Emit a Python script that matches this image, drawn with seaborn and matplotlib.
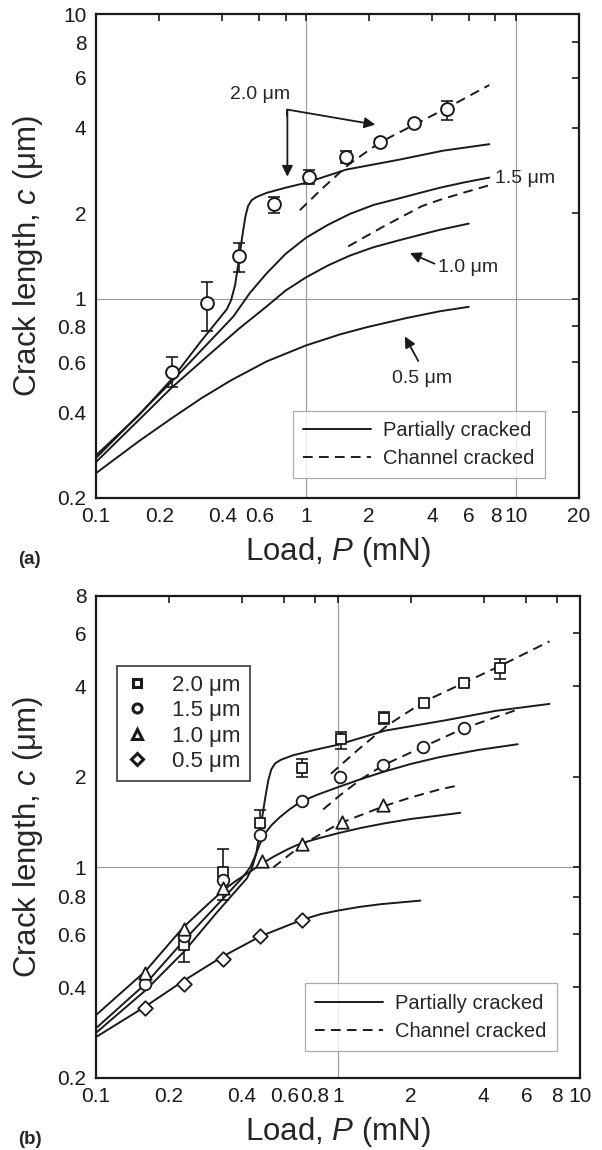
import matplotlib
matplotlib.use("Agg")
import matplotlib.pyplot as plt
import seaborn as sns
from matplotlib.lines import Line2D
from matplotlib.ticker import FixedLocator, FixedFormatter, NullLocator

sns.set_theme(style="white")
plt.rcParams['font.family'] = ['Liberation Sans', 'DejaVu Sans']
plt.rcParams['mathtext.fontset'] = 'custom'
plt.rcParams['mathtext.it'] = 'Liberation Sans:italic'
plt.rcParams['mathtext.rm'] = 'Liberation Sans'

# ---------------- data: panel (a) ----------------
a_exp_load = [0.231, 0.337, 0.479, 0.708, 1.04, 1.55, 2.25, 3.29, 4.72]
a_exp_c = [0.552, 0.964, 1.41, 2.16, 2.68, 3.15, 3.56, 4.14, 4.65]
a_exp_low = [0.489, 0.773, 1.245, 2.01, 2.53, 3.00, 3.46, 4.06, 4.25]
a_exp_high = [0.624, 1.15, 1.57, 2.29, 2.83, 3.30, 3.66, 4.22, 4.95]

p20_load = [0.1, 0.16, 0.231, 0.313, 0.40, 0.42, 0.44, 0.46, 0.48, 0.50, 0.515, 0.53, 0.55, 0.58,
            0.65, 0.8, 1.0, 1.56, 2.8, 4.5, 7.48]
p20_c = [0.282, 0.39, 0.525, 0.703, 0.88, 0.92, 0.99, 1.12, 1.38, 1.7, 1.95, 2.12, 2.22, 2.28,
         2.36, 2.46, 2.56, 2.85, 3.09, 3.32, 3.50]
c20_load = [0.935, 1.2, 1.6, 2.25, 3.29, 4.72, 7.48]
c20_c = [2.05, 2.45, 2.97, 3.55, 4.1, 4.7, 5.65]

a_p15_load = [0.1, 0.231, 0.32, 0.451, 0.541, 0.65, 0.8, 1.0, 1.27, 1.62, 2.1, 2.8, 3.5, 4.35, 5.7, 7.48]
a_p15_c = [0.276, 0.515, 0.664, 0.867, 1.05, 1.23, 1.44, 1.64, 1.82, 1.99, 2.14, 2.26, 2.36, 2.46, 2.57, 2.67]
a_c15_load = [1.59, 2.35, 3.57, 4.35, 5.6, 7.48]
a_c15_c = [1.53, 1.80, 2.12, 2.23, 2.36, 2.51]

a_p10_load = [0.1, 0.231, 0.362, 0.48, 0.65, 0.8, 1.0, 1.27, 1.62, 2.1, 2.8, 3.5, 4.35, 5.97]
a_p10_c = [0.267, 0.49, 0.656, 0.786, 0.941, 1.07, 1.19, 1.31, 1.42, 1.52, 1.61, 1.68, 1.75, 1.84]

a_p05_load = [0.1, 0.16, 0.231, 0.32, 0.439, 0.65, 1.0, 1.45, 1.946, 3.0, 4.35, 5.97]
a_p05_c = [0.244, 0.316, 0.382, 0.449, 0.517, 0.603, 0.686, 0.75, 0.795, 0.856, 0.905, 0.938]

# ---------------- data: panel (b) ----------------
b_sq_load = [0.230, 0.334, 0.477, 0.71, 1.03, 1.55, 2.27, 3.30, 4.69]
b_sq_c = [0.553, 0.968, 1.41, 2.14, 2.67, 3.13, 3.53, 4.11, 4.61]
b_sq_low = [0.485, 0.78, 1.27, 2.0, 2.48, 3.0, 3.45, 4.03, 4.23]
b_sq_high = [0.598, 1.156, 1.556, 2.29, 2.82, 3.28, 3.62, 4.2, 4.95]

b_ci_load = [0.160, 0.230, 0.334, 0.477, 0.71, 1.02, 1.54, 2.25, 3.30]
b_ci_c = [0.409, 0.590, 0.908, 1.28, 1.66, 2.0, 2.19, 2.52, 2.92]

b_tr_load = [0.160, 0.230, 0.334, 0.484, 0.708, 1.035, 1.54]
b_tr_c = [0.445, 0.625, 0.853, 1.05, 1.20, 1.418, 1.61]

b_di_load = [0.160, 0.230, 0.334, 0.477, 0.71]
b_di_c = [0.340, 0.411, 0.498, 0.590, 0.670]

b_p15_load = [0.1, 0.16, 0.23, 0.336, 0.40, 0.433, 0.45, 0.476, 0.50, 0.53, 0.575, 0.63, 0.697,
              0.82, 1.0, 1.25, 1.54, 2.0, 2.64, 3.8, 5.53]
b_p15_c = [0.292, 0.41, 0.57, 0.79, 0.92, 1.0, 1.07, 1.2, 1.3, 1.38, 1.47, 1.56, 1.65,
           1.745, 1.85, 1.97, 2.08, 2.21, 2.33, 2.46, 2.57]
b_c15_load = [0.869, 1.02, 1.25, 1.54, 2.25, 3.30, 5.57]
b_c15_c = [1.56, 1.74, 1.97, 2.19, 2.52, 2.90, 3.36]

b_p10_load = [0.1, 0.16, 0.23, 0.29, 0.336, 0.38, 0.43, 0.476, 0.54, 0.62, 0.697, 0.83, 1.0,
              1.25, 1.54, 2.0, 2.64, 3.2]
b_p10_c = [0.323, 0.452, 0.634, 0.755, 0.84, 0.905, 0.965, 1.02, 1.085, 1.15, 1.20, 1.25, 1.30,
           1.355, 1.40, 1.45, 1.49, 1.52]
b_c10_load = [0.54, 0.71, 1.01, 1.55, 2.0, 2.64, 3.2]
b_c10_c = [1.0, 1.19, 1.40, 1.60, 1.71, 1.82, 1.88]

b_p05_load = [0.1, 0.16, 0.23, 0.334, 0.477, 0.71, 0.85, 1.0, 1.22, 1.5, 1.8, 2.19]
b_p05_c = [0.273, 0.345, 0.42, 0.506, 0.59, 0.67, 0.70, 0.719, 0.739, 0.755, 0.765, 0.776]

# ---------------- ticks ----------------
a_xticks = [0.1, 0.2, 0.4, 0.6, 0.8, 1, 2, 4, 6, 8, 10, 20]
a_xlabels = ['0.1', '0.2', '0.4', '0.6', '', '1', '2', '4', '6', '8', '10', '20']
a_yticks = [0.2, 0.4, 0.6, 0.8, 1, 2, 4, 6, 8, 10]
a_ylabels = ['0.2', '0.4', '0.6', '0.8', '1', '2', '4', '6', '8', '10']
b_xticks = [0.1, 0.2, 0.4, 0.6, 0.8, 1, 2, 4, 6, 8, 10]
b_xlabels = ['0.1', '0.2', '0.4', '0.6', '0.8', '1', '2', '4', '6', '8', '10']
b_yticks = [0.2, 0.4, 0.6, 0.8, 1, 2, 4, 6, 8]
b_ylabels = ['0.2', '0.4', '0.6', '0.8', '1', '2', '4', '6', '8']

series_labels = ['2.0 \u03bcm', '1.5 \u03bcm', '1.0 \u03bcm', '0.5 \u03bcm']
line_labels = ['Partially cracked', 'Channel cracked']

LW = 1.4
DASH = (0, (5, 3.2))
TICKFS = 15
LABFS = 22.5

fig = plt.figure(figsize=(6.02, 11.5), dpi=100)
ax1 = fig.add_axes([0.1595, 0.5672, 0.8023, 0.4202])
ax2 = fig.add_axes([0.1595, 0.0629, 0.8040, 0.4189])


def solid(ax, x, y):
    sns.lineplot(x=x, y=y, ax=ax, color='k', lw=LW, estimator=None, sort=False, legend=False, zorder=2)


def dashed(ax, x, y):
    sns.lineplot(x=x, y=y, ax=ax, color='k', lw=LW, linestyle=DASH, estimator=None, sort=False,
                 legend=False, zorder=2)


def style_axes(ax, xt, xl, yt, yl, xlim, ylim):
    ax.set_xscale('log')
    ax.set_yscale('log')
    ax.set_xlim(*xlim)
    ax.set_ylim(*ylim)
    ax.xaxis.set_major_locator(FixedLocator(xt))
    ax.xaxis.set_major_formatter(FixedFormatter(xl))
    ax.yaxis.set_major_locator(FixedLocator(yt))
    ax.yaxis.set_major_formatter(FixedFormatter(yl))
    ax.xaxis.set_minor_locator(NullLocator())
    ax.yaxis.set_minor_locator(NullLocator())
    ax.tick_params(which='major', direction='in', top=True, right=True, length=5, width=1.2,
                   labelsize=TICKFS, pad=7, colors='k')
    for s in ax.spines.values():
        s.set_linewidth(1.6)
        s.set_color('k')
    ax.set_xlabel('Load, $P$ (mN)', fontsize=LABFS)
    ax.set_ylabel('Crack length, $c$ (\u03bcm)', fontsize=LABFS)
    ax.xaxis.set_label_coords(0.5, -0.078)
    ax.yaxis.set_label_coords(-0.105, 0.5)
    ax.grid(False)


# ---------------- panel (a) ----------------
ax = ax1
style_axes(ax, a_xticks, a_xlabels, a_yticks, a_ylabels, (0.1, 20), (0.2, 10))
ax.axvline(1, color='0.6', lw=0.8, zorder=0)
ax.axvline(10, color='0.6', lw=0.8, zorder=0)
ax.axhline(1, color='0.6', lw=0.8, zorder=0)
solid(ax, p20_load, p20_c)
dashed(ax, c20_load, c20_c)
solid(ax, a_p15_load, a_p15_c)
dashed(ax, a_c15_load, a_c15_c)
solid(ax, a_p10_load, a_p10_c)
solid(ax, a_p05_load, a_p05_c)
a_lo = [c - l for c, l in zip(a_exp_c, a_exp_low)]
a_hi = [h - c for c, h in zip(a_exp_c, a_exp_high)]
ax.errorbar(a_exp_load, a_exp_c, yerr=[a_lo, a_hi], fmt='none', ecolor='k', elinewidth=1.2,
            capsize=4, capthick=1.2, zorder=3)
sns.scatterplot(x=a_exp_load, y=a_exp_c, ax=ax, marker='o', s=85, color='white', edgecolor='k',
                linewidth=1.4, zorder=4, legend=False)

ax.text(0.608, 5.24, series_labels[0], fontsize=14, ha='center', va='center')
ax.plot([0.816, 0.816], [4.63, 4.4], color='k', lw=1.3)
ap = dict(arrowstyle='-|>', color='k', lw=1.3, mutation_scale=16, shrinkA=0, shrinkB=0)
ax.annotate('', xy=(0.816, 2.69), xytext=(0.816, 4.63), arrowprops=ap)
ax.annotate('', xy=(2.14, 4.10), xytext=(0.816, 4.63), arrowprops=ap)
ax.text(8.0, 2.66, series_labels[1], fontsize=14, ha='left', va='center')
ax.text(5.92, 1.29, series_labels[2], fontsize=14, ha='center', va='center')
ax.annotate('', xy=(3.13, 1.45), xytext=(4.1, 1.33), arrowprops=ap)
ax.text(3.57, 0.526, series_labels[3], fontsize=14, ha='center', va='center')
ax.annotate('', xy=(2.96, 0.738), xytext=(3.43, 0.605), arrowprops=ap)

lh = [Line2D([], [], color='k', lw=LW), Line2D([], [], color='k', lw=LW, linestyle=DASH)]
leg = ax.legend(lh, line_labels, loc='lower right', bbox_to_anchor=(0.929, 0.041), fontsize=14.5,
                frameon=True, fancybox=False, handlelength=3.4, handletextpad=0.6, borderpad=0.5,
                labelspacing=0.45, borderaxespad=0)
leg.get_frame().set_edgecolor('0.6')
leg.get_frame().set_linewidth(0.9)

# ---------------- panel (b) ----------------
ax = ax2
style_axes(ax, b_xticks, b_xlabels, b_yticks, b_ylabels, (0.1, 10), (0.2, 8))
ax.axvline(1, color='0.6', lw=0.8, zorder=0)
ax.axhline(1, color='0.6', lw=0.8, zorder=0)
solid(ax, p20_load, p20_c)
dashed(ax, c20_load, c20_c)
solid(ax, b_p15_load, b_p15_c)
dashed(ax, b_c15_load, b_c15_c)
solid(ax, b_p10_load, b_p10_c)
dashed(ax, b_c10_load, b_c10_c)
solid(ax, b_p05_load, b_p05_c)
b_lo = [c - l for c, l in zip(b_sq_c, b_sq_low)]
b_hi = [h - c for c, h in zip(b_sq_c, b_sq_high)]
ax.errorbar(b_sq_load, b_sq_c, yerr=[b_lo, b_hi], fmt='none', ecolor='k', elinewidth=1.2,
            capsize=4, capthick=1.2, zorder=3)
mk = dict(ax=ax, color='white', edgecolor='k', linewidth=1.3, zorder=4, legend=False)
sns.scatterplot(x=b_sq_load, y=b_sq_c, marker='s', s=60, **mk)
sns.scatterplot(x=b_ci_load, y=b_ci_c, marker='o', s=70, **mk)
sns.scatterplot(x=b_tr_load, y=b_tr_c, marker='^', s=80, **mk)
sns.scatterplot(x=b_di_load, y=b_di_c, marker='D', s=55, **mk)

mh = [Line2D([], [], ls='none', marker=m, ms=ms, mfc='white', mec='k', mew=2.2)
      for m, ms in zip(['s', 'o', '^', 'D'], [6, 6.5, 7.5, 6])]
leg1 = ax.legend(mh, series_labels, loc='upper left', bbox_to_anchor=(0.043, 0.855), fontsize=16,
                 frameon=True, fancybox=False, handlelength=1.0, handletextpad=1.1, borderpad=0.4,
                 labelspacing=0.2, borderaxespad=0)
leg1.get_frame().set_edgecolor('k')
leg1.get_frame().set_linewidth(1.3)
ax.add_artist(leg1)
leg2 = ax.legend(lh, line_labels, loc='lower right', bbox_to_anchor=(0.952, 0.056), fontsize=14.5,
                 frameon=True, fancybox=False, handlelength=3.4, handletextpad=0.6, borderpad=0.5,
                 labelspacing=0.45, borderaxespad=0)
leg2.get_frame().set_edgecolor('0.6')
leg2.get_frame().set_linewidth(0.9)

fig.text(29 / 602, 1 - 559 / 1150, '(a)', fontsize=13.5, fontweight='bold', ha='center', va='center')
fig.text(30 / 602, 1 - 1139 / 1150, '(b)', fontsize=13.5, fontweight='bold', ha='center', va='center')

fig.savefig('out.png', dpi=100, facecolor='white')
